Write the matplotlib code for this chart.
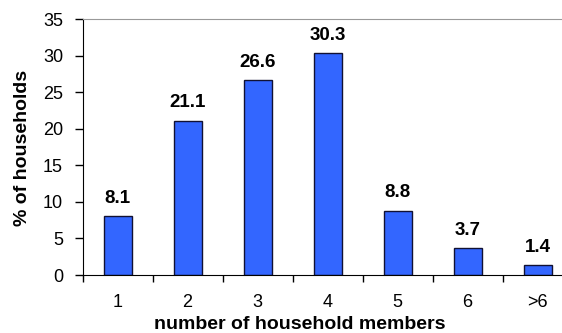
import matplotlib.pyplot as plt

categories = ['1', '2', '3', '4', '5', '6', '>6']
percent = [8.1, 21.1, 26.6, 30.3, 8.8, 3.7, 1.4]
y_ticks = [0, 5, 10, 15, 20, 25, 30, 35]

plt.rcParams['font.family'] = ['Liberation Sans', 'DejaVu Sans']

fig = plt.figure(figsize=(5.62, 3.33), dpi=100)
ax = fig.add_axes([82.5 / 562, 58 / 333, 490 / 562, 256 / 333])

x = list(range(len(categories)))
ax.bar(x, percent, width=0.4, color='#3366FF', edgecolor='#111133', linewidth=1)

for xi, v in zip(x, percent):
    ax.annotate(f'{v}', (xi, v), xytext=(0, 9.5), textcoords='offset points',
                ha='center', va='baseline', fontsize=13.5, fontweight='bold')

ax.set_xlim(-0.5, len(categories) - 0.5)
ax.set_ylim(0, 35)
ax.set_yticks(y_ticks)

# ticks between categories, labels at category centres
ax.set_xticks([i + 0.5 for i in range(-1, len(categories))])
ax.set_xticklabels([])
ax.set_xticks(x, minor=True)
ax.set_xticklabels(categories, minor=True)
ax.tick_params(axis='x', which='major', direction='out', length=5, width=1)
ax.tick_params(axis='x', which='minor', length=0, pad=14, labelsize=13)
ax.tick_params(axis='y', direction='out', length=6, width=1, pad=8, labelsize=13)

ax.spines['right'].set_visible(False)
ax.spines['top'].set_color('#999999')
ax.spines['left'].set_color('black')
ax.spines['bottom'].set_color('black')

fig.text(22.5 / 562, 1 - 147.5 / 333, '% of households', rotation=90, ha='center', va='center',
         fontsize=14, fontweight='bold')
fig.text(300 / 562, 0, 'number of household members', ha='center', va='bottom',
         fontsize=14, fontweight='bold')

plt.savefig('out.png', dpi=100)
